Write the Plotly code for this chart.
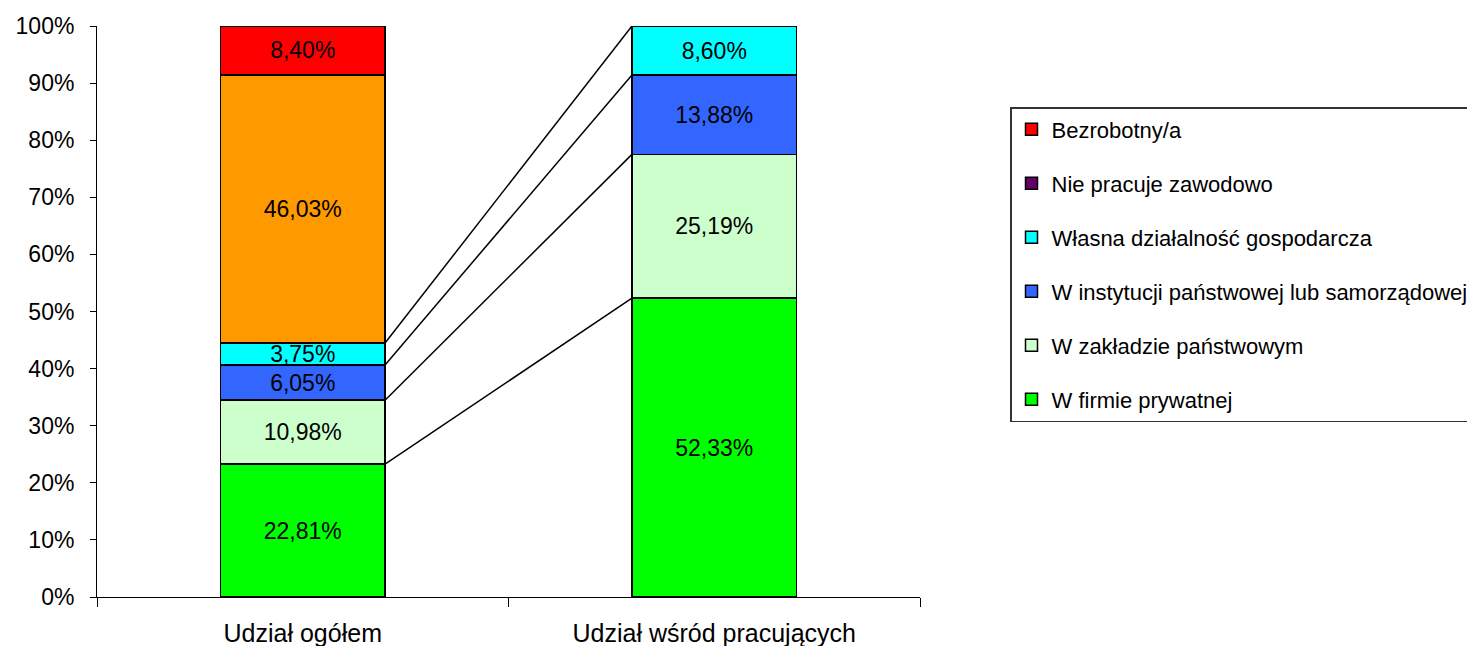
import plotly.graph_objects as go

# ---- data ----
categories = ["Udział ogółem", "Udział wśród pracujących"]
firma_prywatna = [22.81, 52.33]
zaklad_panstwowy = [10.98, 25.19]
instytucja_panstwowa = [6.05, 13.88]
wlasna_dzialalnosc = [3.75, 8.60]
nie_pracuje = [46.03, None]
bezrobotny = [8.40, None]

series_names = [
    "W firmie prywatnej",
    "W zakładzie państwowym",
    "W instytucji państwowej lub samorządowej",
    "Własna działalność gospodarcza",
    "Nie pracuje zawodowo",
    "Bezrobotny/a",
]
series_values = [firma_prywatna, zaklad_panstwowy, instytucja_panstwowa,
                 wlasna_dzialalnosc, nie_pracuje, bezrobotny]
bar_colors = ["#00FF00", "#CCFFCC", "#3366FF", "#00FFFF", "#FF9900", "#FF0000"]
legend_colors = ["#00FF00", "#CCFFCC", "#3366FF", "#00FFFF", "#660066", "#FF0000"]
ytick_values = [0, 10, 20, 30, 40, 50, 60, 70, 80, 90, 100]

FONT = "Liberation Sans, Arial, sans-serif"
xpos = [0, 1]
BAR_W = 0.4


def fmt(v):
    return "" if v is None else f"{v:.2f}%".replace(".", ",")


fig = go.Figure()
for i, (name, vals) in enumerate(zip(series_names, series_values)):
    fig.add_trace(go.Bar(
        x=xpos, y=vals, name=name, width=BAR_W,
        marker=dict(color=bar_colors[i], line=dict(color="black", width=1.5)),
        text=[fmt(v) for v in vals], textposition="inside",
        insidetextanchor="middle", textangle=0, constraintext="none",
        textfont=dict(family=FONT, size=23, color="black"),
        showlegend=False, hoverinfo="skip",
    ))

# connector (series) lines between bar segment tops
totals = [sum(v[j] for v in series_values if v[j] is not None) for j in range(2)]
cum = [0.0, 0.0]
for vals in series_values[:4]:
    for j in range(2):
        cum[j] += vals[j]
    y0 = cum[0] / totals[0] * 100
    y1 = cum[1] / totals[1] * 100
    fig.add_trace(go.Scatter(
        x=[xpos[0] + BAR_W / 2, xpos[1] - BAR_W / 2], y=[y0, y1],
        mode="lines", line=dict(color="black", width=1.5),
        showlegend=False, hoverinfo="skip",
    ))

# legend entries (top to bottom: last series first)
for k, i in enumerate(reversed(range(len(series_names)))):
    fig.add_trace(go.Bar(
        x=[None], y=[None], name=series_names[i], width=BAR_W,
        marker=dict(color=legend_colors[i], line=dict(color="black", width=1.5)),
        legendgroup=f"leg{k}", showlegend=True, hoverinfo="skip",
    ))

W, H = 1467, 646
L, R, T, B = 97, 920, 26, 597
LEG_X, LEG_Y = 1010, 107

fig.update_layout(
    width=W, height=H,
    barmode="stack", barnorm="percent",
    paper_bgcolor="white", plot_bgcolor="white",
    margin=dict(l=L, r=W - R, t=T, b=H - B, autoexpand=False),
    font=dict(family=FONT, size=22, color="black"),
    showlegend=True,
    legend=dict(
        x=(LEG_X - L) / (R - L), y=(B - LEG_Y) / (B - T),
        xanchor="left", yanchor="top",
        traceorder="grouped", tracegroupgap=22.4,
        bordercolor="#333333", borderwidth=1.5, bgcolor="white",
        font=dict(family=FONT, size=22, color="black"),
    ),
    xaxis=dict(
        range=[-0.5, 1.5], tickvals=xpos, ticktext=categories,
        ticks="", showgrid=False, zeroline=False,
        showline=True, linecolor="black", linewidth=1,
        tickfont=dict(family=FONT, size=25, color="black"),
        ticklabelstandoff=14,
        minor=dict(tickvals=[-0.5, 0.5, 1.5], ticks="outside", ticklen=9,
                   tickcolor="black", tickwidth=1, showgrid=False),
    ),
    yaxis=dict(
        range=[0, 100], tickvals=ytick_values,
        ticktext=[f"{v}%" for v in ytick_values],
        ticks="outside", ticklen=6, tickcolor="black", tickwidth=1,
        showgrid=False, zeroline=False,
        showline=True, linecolor="black", linewidth=1,
        tickfont=dict(family=FONT, size=23, color="black"),
        ticklabelstandoff=11,
    ),
)

fig.write_html(
    "out.html",
    config={"displayModeBar": False},
    post_script="document.body.style.margin='0';document.body.style.overflow='hidden';",
)
